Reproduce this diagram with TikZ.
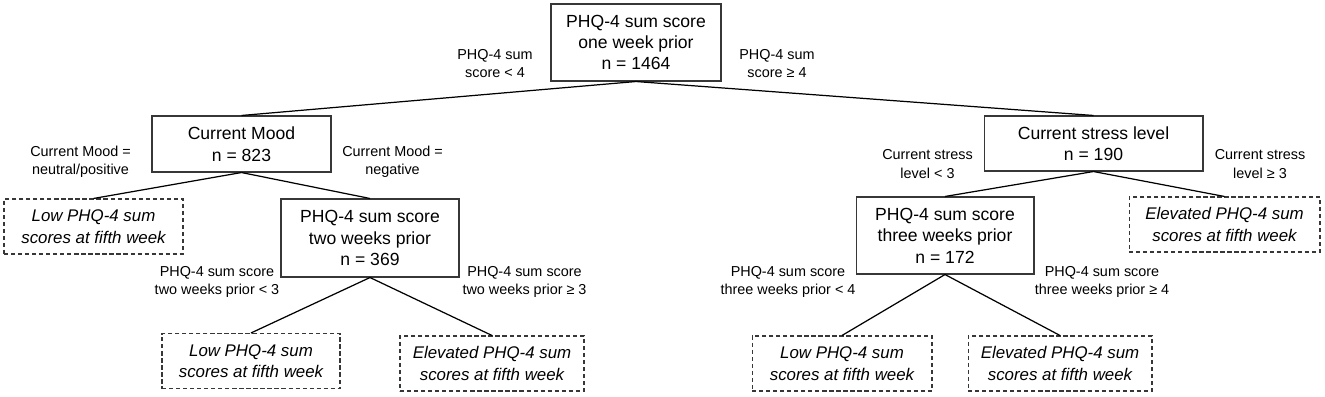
\documentclass[tikz,border=0pt]{standalone}
\usepackage{fontspec}
\setmainfont{Liberation Sans}
\usetikzlibrary{positioning}
\definecolor{boxgray}{RGB}{55,55,55}

\begin{document}
\begin{tikzpicture}[x=0.02cm, y=-0.02cm, line width=0.7pt,
  split/.style={draw=boxgray, line width=0.6pt, align=center, inner sep=0pt,
    font=\fontsize{10}{12.2}\selectfont},
  leaf/.style={draw=boxgray, line width=0.6pt, dash pattern=on 2.4pt off 1.6pt,
    align=center, inner sep=0pt, minimum height=1.1cm,
    font=\fontsize{9.6}{12.2}\selectfont\itshape},
  cond/.style={align=center, inner sep=0pt, font=\fontsize{8.2}{10.5}\selectfont}]
\useasboundingbox (0,0) rectangle (1325,396);
% decision nodes
\node[split, minimum width=3.4cm, minimum height=1.54cm] (root) at (636,42.5)
  {PHQ-4 sum score\\one week prior\\n = 1464};
\node[split, minimum width=3.58cm, minimum height=1.12cm] (mood) at (241.5,144)
  {Current Mood\\n = 823};
\node[split, minimum width=4.38cm, minimum height=1.1cm] (stress) at (1093.5,143.5)
  {Current stress level\\n = 190};
\node[split, minimum width=3.56cm, minimum height=1.56cm] (two) at (370,238)
  {PHQ-4 sum score\\two weeks prior\\n = 369};
\node[split, minimum width=3.56cm, minimum height=1.54cm] (three) at (945,235.5)
  {PHQ-4 sum score\\three weeks prior\\n = 172};
% outcomes
\node[leaf, minimum width=3.58cm] (lowA) at (93.5,226.5) {Low PHQ-4 sum\\scores at fifth week};
\node[leaf, minimum width=3.82cm] (elevA) at (1224.5,224.5) {Elevated PHQ-4 sum\\scores at fifth week};
\node[leaf, minimum width=3.56cm] (lowB) at (251,361) {Low PHQ-4 sum\\scores at fifth week};
\node[leaf, minimum width=3.68cm] (elevB) at (492,363.5) {Elevated PHQ-4 sum\\scores at fifth week};
\node[leaf, minimum width=3.6cm] (lowC) at (842,363.5) {Low PHQ-4 sum\\scores at fifth week};
\node[leaf, minimum width=3.68cm] (elevC) at (1060,363.5) {Elevated PHQ-4 sum\\scores at fifth week};
% split conditions
\node[cond] (rootL) at (495,63.5) {PHQ-4 sum\\score < 4};
\node[cond] (rootR) at (777,63.5) {PHQ-4 sum\\score ≥ 4};
\node[cond] (moodL) at (80.5,162) {Current Mood =\\neutral/positive};
\node[cond] (moodR) at (392.5,162) {Current Mood =\\negative};
\node[cond] (stressL) at (927.5,164) {Current stress\\level < 3};
\node[cond] (stressR) at (1260,164) {Current stress\\level ≥ 3};
\node[cond] (twoL) at (217,282) {PHQ-4 sum score\\two weeks prior < 3};
\node[cond] (twoR) at (524.5,282) {PHQ-4 sum score\\two weeks prior ≥ 3};
\node[cond] (threeL) at (788,282) {PHQ-4 sum score\\three weeks prior < 4};
\node[cond] (threeR) at (1102,282) {PHQ-4 sum score\\three weeks prior ≥ 4};
% branches
\draw (root.south) -- (mood.north);
\draw (root.south) -- (stress.north);
\draw (mood.south) -- (lowA.north);
\draw (mood.south) -- (two.north);
\draw (stress.south) -- (three.north);
\draw (stress.south) -- (elevA.north);
\draw (two.south) -- (lowB.north);
\draw (two.south) -- (elevB.north);
\draw (three.south) -- (lowC.north);
\draw (three.south) -- (elevC.north);
\end{tikzpicture}
\end{document}
